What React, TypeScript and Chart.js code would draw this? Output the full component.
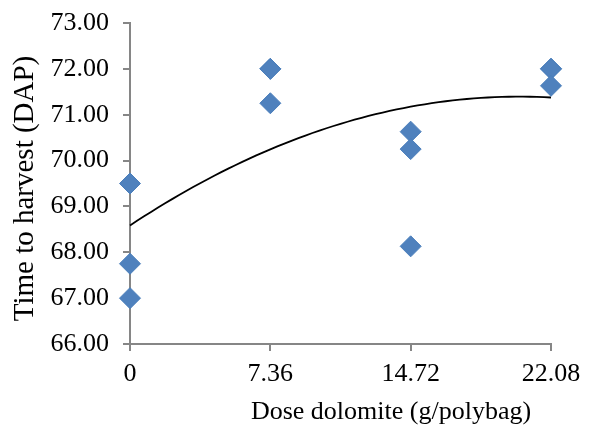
import React, { useEffect, useRef } from 'react';
import { Chart, registerables } from 'chart.js';
Chart.register(...registerables);

// Data
const doses = [0, 0, 0, 7.36, 7.36, 7.36, 14.72, 14.72, 14.72, 22.08, 22.08, 22.08];
const harvestDays = [69.5, 67.75, 67.0, 72.0, 72.0, 71.25, 70.63, 70.25, 68.13, 72.0, 72.0, 71.63];
const xTickValues = [0, 7.36, 14.72, 22.08];
const xTickLabels = ['0', '7.36', '14.72', '22.08'];
const yRange = [66, 73];
const xTitle = 'Dose dolomite (g/polybag)';
const yTitle = 'Time to harvest (DAP)';

// Least-squares 2nd order polynomial trendline (as the spreadsheet does)
function quadFit(xs: number[], ys: number[]) {
  const n = xs.length;
  let s1 = 0, s2 = 0, s3 = 0, s4 = 0, t0 = 0, t1 = 0, t2 = 0;
  for (let i = 0; i < n; i++) {
    const x = xs[i], y = ys[i];
    s1 += x; s2 += x * x; s3 += x * x * x; s4 += x * x * x * x;
    t0 += y; t1 += x * y; t2 += x * x * y;
  }
  const M = [
    [n, s1, s2, t0],
    [s1, s2, s3, t1],
    [s2, s3, s4, t2],
  ];
  for (let c = 0; c < 3; c++) {
    let p = c;
    for (let r = c + 1; r < 3; r++) if (Math.abs(M[r][c]) > Math.abs(M[p][c])) p = r;
    [M[c], M[p]] = [M[p], M[c]];
    for (let r = 0; r < 3; r++) {
      if (r === c) continue;
      const f = M[r][c] / M[c][c];
      for (let k = c; k < 4; k++) M[r][k] -= f * M[c][k];
    }
  }
  return [M[0][3] / M[0][0], M[1][3] / M[1][1], M[2][3] / M[2][2]];
}

const FONT = "'Liberation Serif', 'Times New Roman', serif";

// Axis titles placed as in the reference (x title sits right of the plot centre)
const axisTitles = {
  id: 'axisTitles',
  afterDraw(chart: any) {
    const { ctx, chartArea } = chart;
    ctx.save();
    ctx.fillStyle = '#000';
    ctx.textAlign = 'center';
    ctx.textBaseline = 'middle';
    ctx.font = `26px ${FONT}`;
    const xc = chartArea.left + (chartArea.right - chartArea.left) * 0.62;
    ctx.fillText(xTitle, xc, chartArea.bottom + 68);
    ctx.translate(25, (chartArea.top + chartArea.bottom) / 2 + 5);
    ctx.rotate(-Math.PI / 2);
    ctx.font = `29px ${FONT}`;
    ctx.fillText(yTitle, 0, 0);
    ctx.restore();
  },
};

export default function App() {
  const ref = useRef<HTMLCanvasElement | null>(null);
  useEffect(() => {
    document.body.style.margin = '0';
    const [a, b, c] = quadFit(doses, harvestDays);
    const xMax = xTickValues[xTickValues.length - 1];
    const trend: { x: number; y: number }[] = [];
    for (let i = 0; i <= 60; i++) {
      const x = (xMax * i) / 60;
      trend.push({ x, y: a + b * x + c * x * x });
    }
    const chart = new Chart(ref.current!, {
      type: 'scatter',
      data: {
        datasets: [
          {
            label: 'Time to harvest',
            data: doses.map((x, i) => ({ x, y: harvestDays[i] })),
            pointStyle: 'rectRot',
            pointRadius: 10.5,
            backgroundColor: '#4F81BD',
            borderColor: '#4A7EBB',
            borderWidth: 1,
            clip: false,
            order: 1,
          } as any,
          {
            label: 'Trend',
            type: 'line',
            data: trend,
            borderColor: '#000000',
            borderWidth: 1.8,
            pointRadius: 0,
            tension: 0,
            fill: false,
            clip: false,
            order: 2,
          } as any,
        ],
      },
      options: {
        animation: false,
        responsive: false,
        maintainAspectRatio: false,
        layout: { padding: { top: 23, right: 40, left: 0, bottom: 0 } },
        plugins: { legend: { display: false }, tooltip: { enabled: false } },
        scales: {
          x: {
            type: 'linear',
            min: 0,
            max: xMax,
            afterBuildTicks: (s: any) => {
              s.ticks = xTickValues.map((v) => ({ value: v }));
            },
            afterFit: (s: any) => {
              s.height = 86;
              s.paddingLeft = 0;
              s.paddingRight = 0;
            },
            ticks: {
              autoSkip: false,
              maxRotation: 0,
              padding: 8,
              color: '#000',
              font: { family: FONT, size: 26 },
              callback: (v: any) => {
                const i = xTickValues.indexOf(Number(v));
                return i >= 0 ? xTickLabels[i] : '';
              },
            },
            grid: { display: true, drawOnChartArea: false, drawTicks: true, tickLength: 7, color: '#868686', lineWidth: 2 },
            border: { display: true, color: '#868686', width: 2 },
            title: { display: false },
          },
          y: {
            type: 'linear',
            min: yRange[0],
            max: yRange[1],
            afterFit: (s: any) => {
              s.width = 130;
              s.paddingTop = 0;
              s.paddingBottom = 0;
            },
            ticks: {
              stepSize: 1,
              padding: 14,
              color: '#000',
              font: { family: FONT, size: 26 },
              callback: (v: any) => Number(v).toFixed(2),
            },
            grid: { display: true, drawOnChartArea: false, drawTicks: true, tickLength: 7, color: '#868686', lineWidth: 2 },
            border: { display: true, color: '#868686', width: 2 },
            title: { display: false },
          },
        },
      },
      plugins: [axisTitles],
    });
    return () => chart.destroy();
  }, []);
  return (
    <div style={{ width: 591, height: 430, background: '#fff' }}>
      <canvas ref={ref} width={591} height={430} style={{ display: 'block' }} />
    </div>
  );
}
